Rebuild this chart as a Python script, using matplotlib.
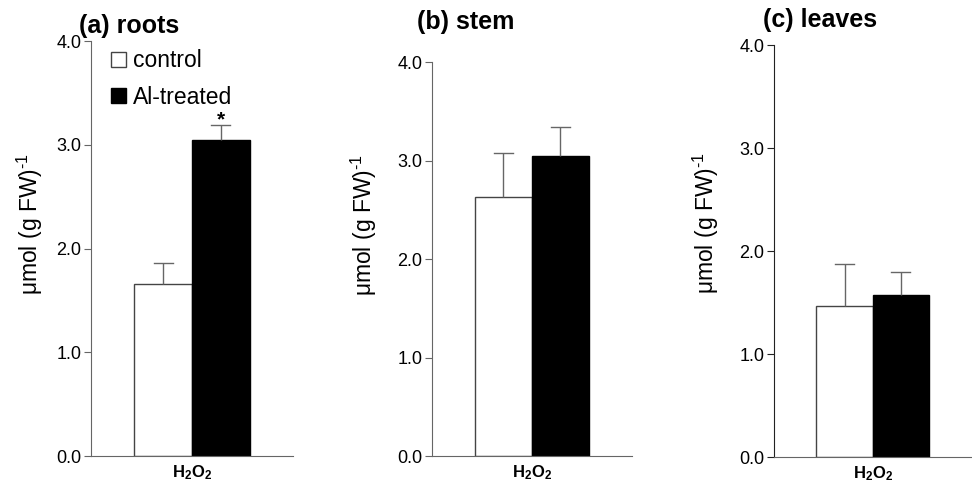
import matplotlib
matplotlib.use('Agg')
import matplotlib.pyplot as plt
from matplotlib.patches import Patch

plt.rcParams['font.family'] = ['Liberation Sans', 'DejaVu Sans']
plt.rcParams['mathtext.fontset'] = 'custom'
plt.rcParams['mathtext.rm'] = 'Liberation Sans'
plt.rcParams['mathtext.bf'] = 'Liberation Sans:bold'
plt.rcParams['mathtext.it'] = 'Liberation Sans:italic'

# data
panels = ['(a) roots', '(b) stem', '(c) leaves']
groups = ['control', 'Al-treated']
control_mean = [1.66, 2.63, 1.47]
control_err = [0.20, 0.45, 0.40]
treated_mean = [3.05, 3.05, 1.57]
treated_err = [0.14, 0.29, 0.23]
significant = [True, False, False]
yticks = [0.0, 1.0, 2.0, 3.0, 4.0]
xlabel = r'$\mathbf{H_2O_2}$'
ylabel = r'μmol (g FW)$^{\text{-1}}$'

AXCOL = '#666666'
W = 0.57

# axes boxes [left, bottom, width, height], title and y-label anchors (figure fractions)
boxes = [
    [0.0936, 0.0559, 0.2078, 0.8592],
    [0.4444, 0.0559, 0.2058, 0.8157],
    [0.7963, 0.0538, 0.2030, 0.8530],
]
title_xy = [(79 / 972, 1 - 33 / 483), (417 / 972, 1 - 29 / 483), (763 / 972, 1 - 27 / 483)]
ylab_xy = [(30 / 972, 1 - 224 / 483), (364 / 972, 1 - 225 / 483), (706 / 972, 1 - 223 / 483)]
spine_col = [AXCOL, AXCOL, '#222222']

fig = plt.figure(figsize=(9.72, 4.83), dpi=100)

for i, title in enumerate(panels):
    ax = fig.add_axes(boxes[i])
    ekw = dict(ecolor=AXCOL, elinewidth=1.0, capsize=0)
    ax.bar(-W / 2, control_mean[i], W, color='white', edgecolor='#444444', lw=1.0,
           yerr=[[0], [control_err[i]]], error_kw=ekw, zorder=2)
    ax.bar(W / 2, treated_mean[i], W, color='black', edgecolor='black', lw=1.0,
           yerr=[[0], [treated_err[i]]], error_kw=ekw, zorder=2)
    for x, m, e in [(-W / 2, control_mean[i], control_err[i]),
                    (W / 2, treated_mean[i], treated_err[i])]:
        ax.plot([x - 0.095, x + 0.095], [m + e, m + e], color=AXCOL, lw=1.0, zorder=3)
    if significant[i]:
        ax.text(W / 2, treated_mean[i] + treated_err[i] + 0.045, '*', ha='center',
                va='center', fontsize=15, fontweight='bold')

    ax.set_xlim(-1, 1)
    ax.set_ylim(0, 4)
    ax.set_yticks(yticks)
    ax.set_yticklabels([f'{t:.1f}' for t in yticks], fontsize=13)
    ax.set_xticks([0])
    ax.set_xticklabels([xlabel], fontsize=12)
    ax.tick_params(axis='x', length=0, pad=5)
    ax.tick_params(axis='y', direction='out', length=5, color=spine_col[i], pad=2)
    for s in ('top', 'right'):
        ax.spines[s].set_visible(False)
    ax.spines['bottom'].set_color(AXCOL)
    ax.spines['left'].set_color(spine_col[i])
    fig.text(ylab_xy[i][0], ylab_xy[i][1], ylabel, fontsize=16.5, rotation=90,
             ha='center', va='center')
    fig.text(title_xy[i][0], title_xy[i][1], title, fontsize=18, fontweight='bold',
             ha='left', va='baseline')

    if i == 0:
        handles = [Patch(facecolor='white', edgecolor='#444444', label=groups[0]),
                   Patch(facecolor='black', edgecolor='black', label=groups[1])]
        ax.legend(handles=handles, loc='upper left', bbox_to_anchor=(0.1, 0.98),
                  frameon=False, fontsize=16.5, handlelength=0.65, handleheight=0.6,
                  handletextpad=0.3, labelspacing=0.58, borderaxespad=0, borderpad=0)

fig.savefig('out.png', dpi=100)
